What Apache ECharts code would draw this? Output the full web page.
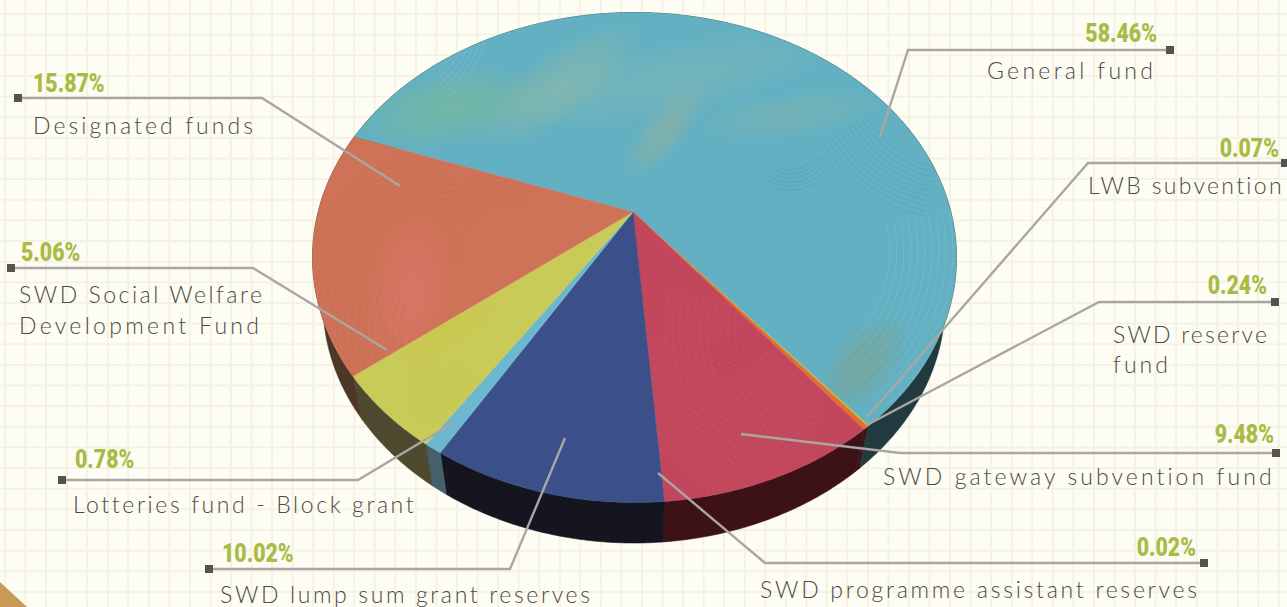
<!DOCTYPE html>
<html><head><meta charset="utf-8">
<script src="https://cdn.jsdelivr.net/npm/echarts@6/dist/echarts.min.js"></script>
<style>
html,body{margin:0;padding:0;background:#fefdf3;}
#chart{width:1287px;height:607px;
 background-color:#fefdf3;
 background-image:linear-gradient(to right,#f4f2e4 0,#f4f2e4 2px,transparent 2px),linear-gradient(to bottom,#f4f2e4 0,#f4f2e4 2px,transparent 2px);
 background-size:20.55px 20.65px;background-position:4px 13px;}
</style></head><body><div id="chart"></div>
<script>
var categories=['General fund','LWB subvention','SWD reserve fund','SWD gateway subvention fund','SWD programme assistant reserves','SWD lump sum grant reserves','Lotteries fund - Block grant','SWD Social Welfare Development Fund','Designated funds'];
var shares=[58.46,0.07,0.24,9.48,0.02,10.02,0.78,5.06,15.87];
var faceColors=['#63b0c2','#b9c14a','#e0702c','#c2475d','#c2475d','#3b5088','#6cb8cf','#c9cb59','#cf7358'];
var wallColors=['#22393f','#22393f','#3d1518','#3d1216','#3d1216','#15151f','#44606a','#4e4a30','#4d3729'];
// labels placed by hand: percent label, name lines [x, midY, text, width], leader path
var labelLayout=[
 {pct:[1157,33,'right'],lines:[[987,70,'General fund',166]],square:[1170,50],elbow:[908,50],end:[880,137]},
 {pct:[1279,148,'right'],lines:[[1088,185,'LWB subvention',194]],square:[1285,163],elbow:[1088,163],end:[867,417]},
 {pct:[1267,285,'right'],lines:[[1113,334,'SWD reserve',154],[1113,364,'fund',55]],square:[1275,302],elbow:[1099,302],end:[867,425]},
 {pct:[1274,434,'right'],lines:[[883,476,'SWD gateway subvention fund',389]],square:[1276,453],elbow:[900,453],end:[741,434]},
 {pct:[1196,547,'right'],lines:[[760,589,'SWD programme assistant reserves',437]],square:[1204,563],elbow:[765,563],end:[658,473]},
 {pct:[222,553,'left'],lines:[[220,594,'SWD lump sum grant reserves',370]],square:[209,569],elbow:[510,569],end:[565,438]},
 {pct:[75,459,'left'],lines:[[73,504,'Lotteries fund - Block grant',340]],square:[62,480],elbow:[358,480],end:[453,423]},
 {pct:[21,252,'left'],lines:[[19,294,'SWD Social Welfare',243],[19,325,'Development Fund',240]],square:[11,268],elbow:[253,268],end:[387,350]},
 {pct:[33,83,'left'],lines:[[33,125,'Designated funds',220]],square:[18,98],elbow:[262,98],end:[400,186]}
];
var top_={cx:634.5,cy:257.5,a:322,b:245};
var bottom_={cx:634,cy:303,a:311,b:240};
var apex=[633,212];
var startDeg=199.5;
// paint patches per slice: [cx,cy,rx,ry,rotationDeg,colour,alpha]
var patches={
 0:[[450,108,95,38,-12,'130,190,135',.5],[560,85,100,35,-35,'165,190,150',.4],[665,130,60,22,-50,'175,180,135',.4],[670,80,170,38,-12,'150,190,170',.32],[790,115,95,24,-8,'165,185,150',.25],[862,365,62,32,-50,'125,160,140',.65]],
 8:[[410,290,40,75,10,'225,120,115',.5]],
 7:[[450,330,70,20,-30,'205,190,60',.35]],
 5:[[560,400,80,60,0,'60,80,150',.25]]
};
// brush arcs per slice: [cx,cy,r0,count,step,a0,a1,colour]
var fans={
 0:[[380,10,70,9,5,0.1,0.9,'255,255,255'],[800,-70,120,12,4,0.6,1.2,'40,100,115'],[960,60,110,11,5,1.8,2.6,'40,100,115'],[790,140,30,6,4,0.5,2.4,'40,100,115'],[760,250,130,12,7,-0.2,0.9,'230,250,250']],
 3:[[620,540,100,18,6,-1.5,-0.3,'235,120,140'],[830,330,60,16,7,1.7,3.4,'235,125,145'],[690,280,70,9,4,-0.4,1.3,'130,30,50']],
 5:[[680,520,60,24,6,2.2,4.4,'95,115,180'],[440,380,60,8,6,-0.6,1.2,'90,110,175']],
 8:[[470,330,70,18,7,2.6,4.6,'165,85,60'],[520,260,60,8,5,-2.6,-1.4,'165,85,60']],
 7:[[400,470,55,12,6,-1.5,0.2,'170,170,50']],
 6:[[430,470,20,5,4,-1.2,0.5,'70,140,170']]
};
var total=shares.reduce(function(s,v){return s+v;},0);
var n0=[(apex[0]-top_.cx)/top_.a,(apex[1]-top_.cy)/top_.b];
function rim(deg){
  var r=deg*Math.PI/180,dx=Math.cos(r),dy=Math.sin(r);
  var bq=n0[0]*dx+n0[1]*dy,c=n0[0]*n0[0]+n0[1]*n0[1]-1;
  var t=-bq+Math.sqrt(bq*bq-c);
  return [n0[0]+t*dx,n0[1]+t*dy];
}
function onEllipse(e,n){return [e.cx+e.a*n[0],e.cy+e.b*n[1]];}
function arc(i){
  var before=0;for(var k=0;k<i;k++)before+=shares[k];
  var a0=startDeg+before/total*360,a1=startDeg+(before+shares[i])/total*360,out=[];
  var n=Math.max(2,Math.ceil((a1-a0)/0.5));
  for(var j=0;j<=n;j++)out.push(rim(a0+(a1-a0)*j/n));
  return out;
}
function facePoly(i){return [apex].concat(arc(i).map(function(p){return onEllipse(top_,p);}));}
function renderWall(params,api){
  var i=api.value(0),pts=arc(i);
  var poly=pts.map(function(p){return onEllipse(top_,p);}).concat(pts.slice().reverse().map(function(p){return onEllipse(bottom_,p);}));
  return {type:'polygon',shape:{points:poly},style:{fill:wallColors[i],stroke:wallColors[i],lineWidth:0.6}};
}
function renderFace(params,api){
  var i=api.value(0),poly=facePoly(i);
  return {type:'polygon',shape:{points:poly},style:{fill:faceColors[i],stroke:faceColors[i],lineWidth:0.4}};
}
function renderPaint(params,api){
  var i=api.value(0),kids=[];
  (patches[i]||[]).forEach(function(p){
    kids.push({type:'circle',x:p[0],y:p[1],scaleX:p[2]/50,scaleY:p[3]/50,rotation:-p[4]*Math.PI/180,shape:{cx:0,cy:0,r:50},
      style:{fill:{type:'radial',x:.5,y:.5,r:.5,colorStops:[{offset:0,color:'rgba('+p[5]+','+p[6]+')'},{offset:.55,color:'rgba('+p[5]+','+p[6]*0.6+')'},{offset:1,color:'rgba('+p[5]+',0)'}]}}});
  });
  (fans[i]||[]).forEach(function(f){
    for(var k=0;k<f[3];k++){
      kids.push({type:'arc',shape:{cx:f[0],cy:f[1],r:f[2]+k*f[4],startAngle:f[5],endAngle:f[6],clockwise:true},
        style:{stroke:'rgba('+f[7]+',0.15)',lineWidth:0.8,fill:null}});
    }
  });
  if(!kids.length)return null;
  return {type:'group',children:kids,clipPath:{type:'polygon',shape:{points:facePoly(i)}}};
}
var seriesData=shares.map(function(v,i){return [i,v];});
var g=[];
labelLayout.forEach(function(l,i){
  g.push({type:'polyline',z:20,shape:{points:[l.square,l.elbow,l.end]},style:{stroke:'#aaa6a3',lineWidth:2.4,fill:null}});
  g.push({type:'rect',z:21,shape:{x:l.square[0]-4,y:l.square[1]-4,width:8,height:8},style:{fill:'#55534f'}});
  g.push({type:'text',z:22,x:l.pct[0],y:l.pct[1],scaleX:0.82,style:{x:0,y:0,text:shares[i].toFixed(2)+'%',align:l.pct[2],verticalAlign:'middle',fill:'#a9bb47',font:'900 26px Roboto'}});
  l.lines.forEach(function(t){
    g.push({type:'text',z:22,style:{x:t[0],y:t[1],text:t[2],align:'left',verticalAlign:'middle',fill:'#4b4a44',font:'300 23px Lato'}});
  });
});
g.push({type:'polygon',z:1,shape:{points:[[0,582],[27,607],[0,607]]},style:{fill:'#c99a55'}});
var chart=echarts.init(document.getElementById('chart'),null,{renderer:'svg'});
chart.setOption({
  animation:false,backgroundColor:'transparent',
  graphic:{elements:g},
  series:[
   {type:'custom',coordinateSystem:'none',renderItem:renderWall,data:seriesData,z:2,silent:true},
   {type:'custom',coordinateSystem:'none',renderItem:renderFace,data:seriesData,z:3,silent:true},
   {type:'custom',coordinateSystem:'none',renderItem:renderPaint,data:seriesData,z:4,silent:true}
  ]
});
// stretch each name to its measured width in the reference via letter spacing
var widths={};
labelLayout.forEach(function(l){l.lines.forEach(function(t){widths[t[2]]=t[3];});});
document.querySelectorAll('#chart svg text').forEach(function(el){
  var w=widths[el.textContent];
  if(!w)return;
  el.style.letterSpacing='0px';
  var nat=el.getComputedTextLength(),n=el.textContent.length-1;
  el.style.letterSpacing=((w-nat)/n)+'px';
});
</script></body></html>
